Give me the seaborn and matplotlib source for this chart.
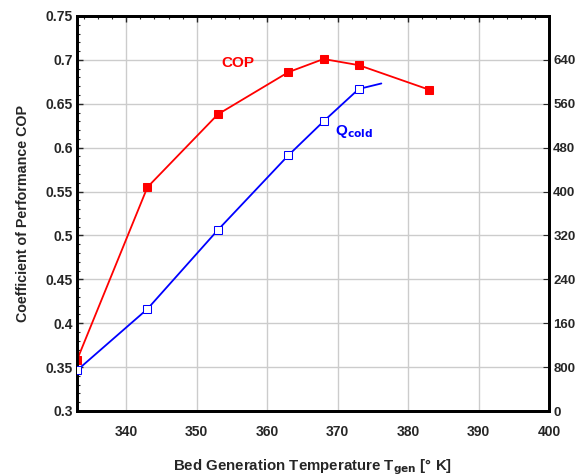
import matplotlib
matplotlib.use("Agg")
import matplotlib.pyplot as plt
import seaborn as sns
import pandas as pd
from matplotlib.ticker import MultipleLocator, FixedLocator

sns.set_style("white")
plt.rcParams['font.family'] = ['Liberation Sans', 'DejaVu Sans']
plt.rcParams['font.weight'] = 'bold'
plt.rcParams['mathtext.default'] = 'bf'

# data
t_cop = [333, 343, 353, 363, 368, 373, 383]
cop = [0.358, 0.555, 0.638, 0.686, 0.701, 0.694, 0.666]
t_q = [333, 343, 353, 363, 368, 373]
q_cold = [74, 186, 330, 466, 528, 587]
t_q_tail = [373, 376.2]
q_tail = [587, 597]
right_ticks = [0, 80, 160, 240, 320, 400, 480, 560, 640]
right_labels = ["0", "800", "160", "240", "320", "400", "480", "560", "640"]

fig = plt.figure(figsize=(5.76, 4.75), dpi=100)
ax = fig.add_axes([77/576, 1-411/475, (549-77)/576, (411-16)/475])
ax2 = ax.twinx()

df_cop = pd.DataFrame({"T": t_cop, "COP": cop})
df_q = pd.DataFrame({"T": t_q, "Q": q_cold})
df_tail = pd.DataFrame({"T": t_q_tail, "Q": q_tail})

sns.lineplot(data=df_cop, x="T", y="COP", ax=ax, color="#ff0000", lw=1.3,
             marker="s", markersize=6, markeredgecolor="#ff0000", markerfacecolor="#ff0000", zorder=5)
sns.lineplot(data=df_q, x="T", y="Q", ax=ax2, color="#0000ff", lw=1.3,
             marker="s", markersize=6, markeredgecolor="#0000ff", markerfacecolor="white", zorder=5)
sns.lineplot(data=df_tail, x="T", y="Q", ax=ax2, color="#0000ff", lw=1.3, zorder=4)

ax.set_xlim(333, 400)
ax.set_ylim(0.3, 0.75)
ax2.set_ylim(0, 720)

ax.xaxis.set_major_locator(FixedLocator([340, 350, 360, 370, 380, 390, 400]))
ax.xaxis.set_minor_locator(MultipleLocator(2))
ax.yaxis.set_minor_locator(MultipleLocator(0.01))
ax.set_yticks([0.3, 0.35, 0.4, 0.45, 0.5, 0.55, 0.6, 0.65, 0.7, 0.75])
ax.set_yticklabels(["0.3", "0.35", "0.4", "0.45", "0.5", "0.55", "0.6", "0.65", "0.7", "0.75"])
ax.set_xticklabels(["340", "350", "360", "370", "380", "390", "400"])

ax2.set_yticks(right_ticks)
ax2.set_yticklabels(right_labels)

ax.grid(True, which="major", color="#cccccc", lw=1)
ax2.grid(False)

ax.tick_params(axis="both", which="both", direction="in", labelsize=10, top=True)
ax.tick_params(which="major", length=4, width=1)
ax.tick_params(which="minor", length=2.5, width=0.8)
ax.tick_params(axis="x", pad=10)
ax.tick_params(axis="y", pad=3)
ax2.tick_params(axis="y", direction="in", labelsize=9.5, length=4, pad=3)

for a in (ax, ax2):
    for s in a.spines.values():
        s.set_color("black")
        s.set_linewidth(2)
    for lab in a.get_xticklabels() + a.get_yticklabels():
        lab.set_fontweight("bold")

ax.set_xlabel("Bed Generation Temperature T$_{\\mathbf{gen}}$ [° K]", fontsize=10.8, fontweight="bold", labelpad=13)
ax.set_ylabel("Coefficient of Performance COP", fontsize=10.3, fontweight="bold", labelpad=11)
ax2.set_ylabel("")

ax.text(355.8, 0.697, "COP", color="#ff0000", fontsize=11, fontweight="bold", ha="center", va="center")
ax.text(369.6, 0.618, "Q$_{\\mathbf{cold}}$", color="#0000ff", fontsize=11, fontweight="bold", ha="left", va="center")

fig.savefig("out.png", dpi=100)
